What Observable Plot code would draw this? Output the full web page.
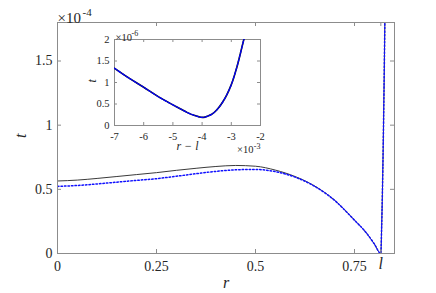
<!DOCTYPE html>
<html>
<head>
<meta charset="utf-8">
<script src="https://cdn.jsdelivr.net/npm/d3@7"></script>
<script src="https://cdn.jsdelivr.net/npm/@observablehq/plot@0.6"></script>
<style>
  html, body { margin: 0; padding: 0; background: #fff; font-family: "Liberation Serif", serif; }
  #wrap { position: relative; width: 436px; height: 293px; overflow: hidden; }
  #wrap svg { position: absolute; }
</style>
</head>
<body>
<div id="wrap"></div>
<script>
// ---- main panel data (t in units of 1e-4) ----
const L = 0.8165; // position of "l"
const mainR = [0, 0.05, 0.1, 0.15, 0.2, 0.25, 0.3, 0.35, 0.4, 0.45, 0.5, 0.55, 0.6, 0.65, 0.7, 0.75, 0.78, 0.8, 0.8165, 0.8185, 0.8205, 0.8225, 0.8245, 0.8265, 0.8275, 0.829];
const blackT = [0.565, 0.572, 0.585, 0.600, 0.615, 0.630, 0.648, 0.664, 0.678, 0.686, 0.680, 0.650, 0.600, 0.525, 0.415, 0.260, 0.160, 0.075, 0.0, 0.20, 0.48, 0.84, 1.27, 1.77, 2.05, 2.4];
const blueT  = [0.523, 0.530, 0.542, 0.556, 0.570, 0.583, 0.602, 0.622, 0.640, 0.652, 0.655, 0.638, 0.595, 0.522, 0.413, 0.259, 0.160, 0.075, 0.0, 0.20, 0.48, 0.84, 1.27, 1.77, 2.05, 2.4];
const mainXTicks = [0, 0.25, 0.5, 0.75, L];
const mainXLabels = ["0", "0.25", "0.5", "0.75", ""];
const mainYTicks = [0, 0.5, 1, 1.5];
const mainYLabels = ["0", "0.5", "1", "1.5"];

// ---- inset data (x in 1e-3, t in 1e-6) ----
const insetX = [-7, -6.5, -6, -5.5, -5, -4.75, -4.5, -4.25, -4.1, -4.0, -3.9, -3.8, -3.65, -3.5, -3.3, -3.15, -3.0, -2.8, -2.57, -2.45];
const insetT = [1.33, 1.10, 0.89, 0.67, 0.48, 0.39, 0.30, 0.23, 0.20, 0.19, 0.195, 0.22, 0.27, 0.36, 0.54, 0.72, 0.95, 1.38, 2.0, 2.3];
const insetXTicks = [-7, -6, -5, -4, -3, -2];
const insetYTicks = [0, 0.5, 1, 1.5, 2];

const serif = "Liberation Serif";
const axisGray = "#8c8c8c";
const textCol = "#262626";

// ---------- main plot ----------
const W = 436, H = 293, mL = 57, mR = 42, mT = 22, mB = 40;
const innerW = W - mL - mR, innerH = H - mT - mB, tk = 4;
const mainRows = mainR.map((r, i) => ({r, black: blackT[i], blue: blueT[i]}));
const T = (s, o) => Plot.text([s], {text: d => d, fontFamily: serif, fill: textCol, ...o});

const main = Plot.plot({
  width: W, height: H,
  marginLeft: mL, marginRight: mR, marginTop: mT, marginBottom: mB,
  style: {background: "transparent", overflow: "visible"},
  x: {domain: [0, 0.851]},
  y: {domain: [0, 1.8]},
  marks: [
    Plot.line(mainRows, {x: "r", y: "black", stroke: "#3a3a3a", strokeWidth: 1, curve: "monotone-x", clip: true}),
    Plot.line(mainRows, {x: "r", y: "blue", stroke: "#1010ff", strokeWidth: 1.5, strokeDasharray: "1.5,2", curve: "monotone-x", clip: true}),
    Plot.frame({stroke: axisGray}),
    Plot.ruleX(mainXTicks, {x: d => d, insetTop: innerH - tk, stroke: axisGray}),
    Plot.ruleX(mainXTicks, {x: d => d, insetBottom: innerH - tk, stroke: axisGray}),
    Plot.ruleY(mainYTicks, {y: d => d, insetRight: innerW - tk, stroke: axisGray}),
    Plot.ruleY(mainYTicks, {y: d => d, insetLeft: innerW - tk, stroke: axisGray}),
    Plot.axisX({ticks: mainXTicks, tickSize: 0, tickPadding: 8, label: null, fontFamily: serif, fontSize: 14, fill: textCol,
                tickFormat: d => mainXLabels[mainXTicks.indexOf(d)]}),
    Plot.axisY({ticks: mainYTicks, tickSize: 0, tickPadding: 5, label: null, fontFamily: serif, fontSize: 14, fill: textCol,
                tickFormat: d => mainYLabels[mainYTicks.indexOf(d)]}),
    Plot.text(["l"], {x: L, text: d => d, frameAnchor: "bottom", dy: 15, fontStyle: "italic", fontSize: 16, fontFamily: serif, fill: textCol}),
    T("r", {frameAnchor: "bottom", dy: 34, fontStyle: "italic", fontSize: 16}),
    T("t", {frameAnchor: "left", dx: -37, rotate: -90, fontStyle: "italic", fontSize: 16}),
    T("×10", {frameAnchor: "top-left", textAnchor: "start", dy: -10, fontSize: 15}),
    T("-4", {frameAnchor: "top-left", textAnchor: "start", dx: 25, dy: -14, fontSize: 11})
  ]
});
main.style.left = "0px"; main.style.top = "0px";

// ---------- inset ----------
const iW = 200, iH = 130, iL = 34, iR = 20, iT = 14, iB = 30, itk = 3;
const iInnerW = iW - iL - iR, iInnerH = iH - iT - iB;
const insetRows = insetX.map((x, i) => ({x, t: insetT[i]}));

const inset = Plot.plot({
  width: iW, height: iH,
  marginLeft: iL, marginRight: iR, marginTop: iT, marginBottom: iB,
  style: {background: "transparent", overflow: "visible"},
  x: {domain: [-7, -2]},
  y: {domain: [0, 2]},
  marks: [
    Plot.frame({fill: "white", stroke: axisGray}),
    Plot.line(insetRows, {x: "x", y: "t", stroke: "#111", strokeWidth: 1.6, curve: "monotone-x", clip: true}),
    Plot.line(insetRows, {x: "x", y: "t", stroke: "#0000ff", strokeWidth: 1.3, strokeDasharray: "3,1.5", curve: "monotone-x", clip: true}),
    Plot.ruleX(insetXTicks, {x: d => d, insetTop: iInnerH - itk, stroke: axisGray}),
    Plot.ruleX(insetXTicks, {x: d => d, insetBottom: iInnerH - itk, stroke: axisGray}),
    Plot.ruleY(insetYTicks, {y: d => d, insetRight: iInnerW - itk, stroke: axisGray}),
    Plot.ruleY(insetYTicks, {y: d => d, insetLeft: iInnerW - itk, stroke: axisGray}),
    Plot.axisX({ticks: insetXTicks, tickSize: 0, tickPadding: 7, label: null, fontFamily: serif, fontSize: 10.5, fill: textCol, tickFormat: d => String(d)}),
    Plot.axisY({ticks: insetYTicks, tickSize: 0, tickPadding: 5, label: null, fontFamily: serif, fontSize: 10.5, fill: textCol, tickFormat: d => String(d)}),
    T("r − l", {frameAnchor: "bottom", dy: 24, fontStyle: "italic", fontSize: 12}),
    T("t", {frameAnchor: "left", dx: -22, rotate: -90, fontStyle: "italic", fontSize: 12}),
    T("×10", {frameAnchor: "top-left", textAnchor: "start", dx: 1, dy: -6, fontSize: 10.5}),
    T("-6", {frameAnchor: "top-left", textAnchor: "start", dx: 17, dy: -9, fontSize: 8}),
    T("×10", {frameAnchor: "bottom-right", textAnchor: "end", dx: -7, dy: 27, fontSize: 10.5}),
    T("-3", {frameAnchor: "bottom-right", textAnchor: "end", dx: 0, dy: 23, fontSize: 8})
  ]
});
inset.style.left = "80px"; inset.style.top = "25px";

const wrap = document.getElementById("wrap");
wrap.appendChild(main);
wrap.appendChild(inset);
</script>
</body>
</html>
